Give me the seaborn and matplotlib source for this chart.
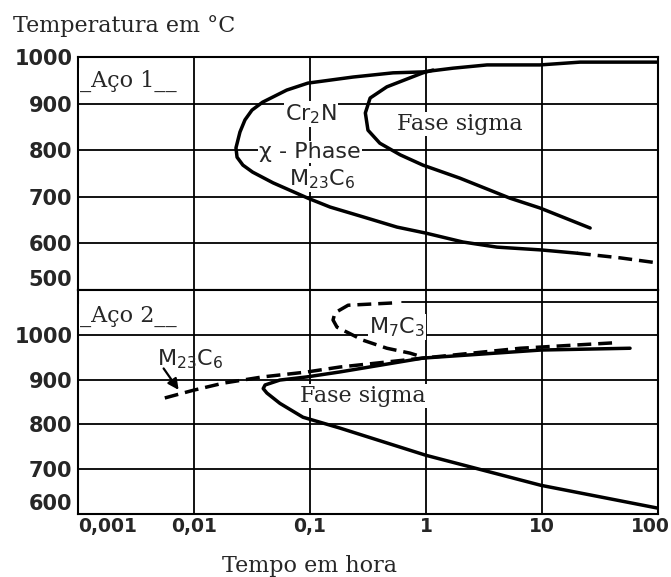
import matplotlib
matplotlib.use("Agg")
import matplotlib.pyplot as plt
import seaborn as sns
import pandas as pd
from matplotlib.ticker import NullLocator
from matplotlib.transforms import ScaledTranslation

# ---------------- data (time in hours, temperature in °C) ----------------
time_ticks = [0.001, 0.01, 0.1, 1, 10, 100]
time_labels = ["0,001", "0,01", "0,1", "1", "10", "100"]
temp_ticks_top = [500, 600, 700, 800, 900, 1000]
temp_ticks_bottom = [600, 700, 800, 900, 1000]

# Aço 1 : Cr2N / chi-phase / M23C6 C-curve (solid part)
aco1_carb_t = [100, 21.3, 9.6, 3.36, 1.71, 0.94, 0.52, 0.235, 0.096, 0.063, 0.039,
               0.0316, 0.0275, 0.0249, 0.023, 0.0235, 0.0264, 0.032, 0.048, 0.096,
               0.149, 0.286, 0.562, 1.0, 2.08, 4.09, 9.8, 20]
aco1_carb_T = [989, 989, 983, 983, 976, 968, 966, 957, 944, 929, 903,
               886, 865, 839, 805, 785, 768, 753, 730, 697,
               678, 657, 635, 622, 603, 592, 586, 579]
# Aço 1 : dashed extension of the lower branch
aco1_carb_ext_t = [20, 47, 100]
aco1_carb_ext_T = [579, 569, 558]
# Aço 1 : sigma phase C-curve
aco1_sigma_t = [1.15, 0.94, 0.46, 0.33, 0.30, 0.316, 0.40, 0.60, 0.94, 1.96, 5.3, 9.6, 26]
aco1_sigma_T = [972, 966, 936, 912, 880, 843, 815, 790, 768, 740, 697, 676, 633]

# Aço 2 : sigma phase C-curve
aco2_sigma_t = [57.4, 9.8, 0.94, 0.18, 0.094, 0.055, 0.041, 0.0395, 0.0425, 0.055,
                0.087, 0.18, 1.0, 9.8, 100]
aco2_sigma_T = [970, 966, 948, 917, 906, 899, 888, 880, 870, 847,
                816, 792, 731, 664, 613]
# Aço 2 : M23C6 (dashed)
aco2_m23_t = [0.0056, 0.0098, 0.0178, 0.039, 0.094, 0.18, 0.94, 6.5, 41]
aco2_m23_T = [859, 876, 892, 906, 917, 928, 948, 970, 982]
# Aço 2 : M7C3 (dashed)
aco2_m7_t = [0.51, 0.213, 0.164, 0.158, 0.171, 0.208, 0.286, 0.46, 0.73, 0.94]
aco2_m7_T = [1071, 1066, 1049, 1033, 1017, 1006, 988, 970, 959, 950]

# ---------------- figure ----------------
sns.set_style("white")
plt.rcParams["font.family"] = ["DejaVu Sans"]
plt.rcParams["mathtext.fontset"] = "dejavusans"

W, H = 671, 577
fig = plt.figure(figsize=(W / 100, H / 100), dpi=100)
left, right = 78 / W, 658 / W
ax1 = fig.add_axes([left, 1 - 290 / H, right - left, (290 - 57) / H])
ax2 = fig.add_axes([left, 1 - 514 / H, right - left, (514 - 290) / H])

solid = "-"
dashed = (0, (4, 2))
curves = [
    (ax1, aco1_carb_t, aco1_carb_T, solid),
    (ax1, aco1_carb_ext_t, aco1_carb_ext_T, dashed),
    (ax1, aco1_sigma_t, aco1_sigma_T, solid),
    (ax2, aco2_sigma_t, aco2_sigma_T, solid),
    (ax2, aco2_m23_t, aco2_m23_T, dashed),
    (ax2, aco2_m7_t, aco2_m7_T, dashed),
]

for ax in (ax1, ax2):
    ax.set_xscale("log")
    ax.set_xlim(0.001, 100)

for ax, t, T, ls in curves:
    df = pd.DataFrame({"t": t, "T": T})
    sns.lineplot(data=df, x="t", y="T", sort=False, estimator=None, ax=ax,
                 color="black", linewidth=2.5, linestyle=ls, zorder=4)

ax1.set_ylim(500, 1000)
ax2.set_ylim(600, 1100)

for ax, yt in ((ax1, temp_ticks_top), (ax2, temp_ticks_bottom)):
    ax.set_xlabel("")
    ax.set_ylabel("")
    ax.set_xticks(time_ticks)
    ax.xaxis.set_minor_locator(NullLocator())
    ax.set_yticks(yt)
    ax.set_yticklabels([str(v) for v in yt], fontsize=15, fontweight="bold")
    ax.tick_params(axis="both", length=0)
    ax.tick_params(axis="y", pad=4)
    ax.tick_params(axis="x", pad=2)
    ax.grid(True, color="black", linewidth=1.3)
    ax.set_axisbelow(True)
    for sp in ax.spines.values():
        sp.set_color("black")
        sp.set_linewidth(1.5)

ax1.set_xticklabels([])
ax2.set_xticklabels(time_labels, fontsize=13.5, fontweight="bold")

# label alignment quirks
ax1.get_yticklabels()[0].set_va("bottom")
ax2.get_yticklabels()[0].set_va("bottom")
xl = ax2.get_xticklabels()
xl[0].set_ha("left")
xl[-1].set_transform(xl[-1].get_transform() + ScaledTranslation(-8 / 100, 0, fig.dpi_scale_trans))

# extra horizontal rule near the top of the lower panel (scan artefact)
ax2.axhline(1073, xmin=(402 - 78) / 580, xmax=1, color="black", linewidth=1.3, zorder=1)

serif = ["DejaVu Serif"]
box = dict(facecolor="white", edgecolor="none", pad=1.0)

# Axis titles
fig.text(13 / W, 1 - 32 / H, "Temperatura em °C", family=serif, fontsize=16, va="baseline", ha="left")
fig.text(310 / W, 1 - 572 / H, "Tempo em hora", family=serif, fontsize=16, va="baseline", ha="center")

# Panel labels
ax1.text(0.00104, 936, "_Aço 1__", family=serif, fontsize=16, va="baseline", ha="left", bbox=box, zorder=3)
ax2.text(0.00104, 1028, "_Aço 2__", family=serif, fontsize=16, va="baseline", ha="left", bbox=box, zorder=3)

# Phase labels, Aço 1
ax1.text(0.102, 865, r"Cr$_2$N", fontsize=16, ha="center", va="baseline", bbox=box, zorder=3)
ax1.text(0.100, 783, "χ - Phase", fontsize=16, ha="center", va="baseline", bbox=box, zorder=3)
ax1.text(0.127, 725, r"M$_{23}$C$_6$", fontsize=16, ha="center", va="baseline", bbox=box, zorder=3)
ax1.text(1.96, 843, "Fase sigma", family=serif, fontsize=16, ha="center", va="baseline", bbox=box, zorder=3)

# Phase labels, Aço 2
ax2.text(0.562, 1004, r"M$_7$C$_3$", fontsize=16, ha="center", va="baseline", bbox=box, zorder=3)
ax2.text(0.00925, 932, r"M$_{23}$C$_6$", fontsize=16, ha="center", va="baseline", zorder=3)
ax2.text(0.286, 850, "Fase sigma", family=serif, fontsize=16, ha="center", va="baseline", bbox=box, zorder=3)
ax2.annotate("", xy=(0.0076, 872), xytext=(0.0053, 930),
             arrowprops=dict(arrowstyle="-|>", color="black", lw=1.6, mutation_scale=16), zorder=5)

fig.savefig("out.png", dpi=100)
